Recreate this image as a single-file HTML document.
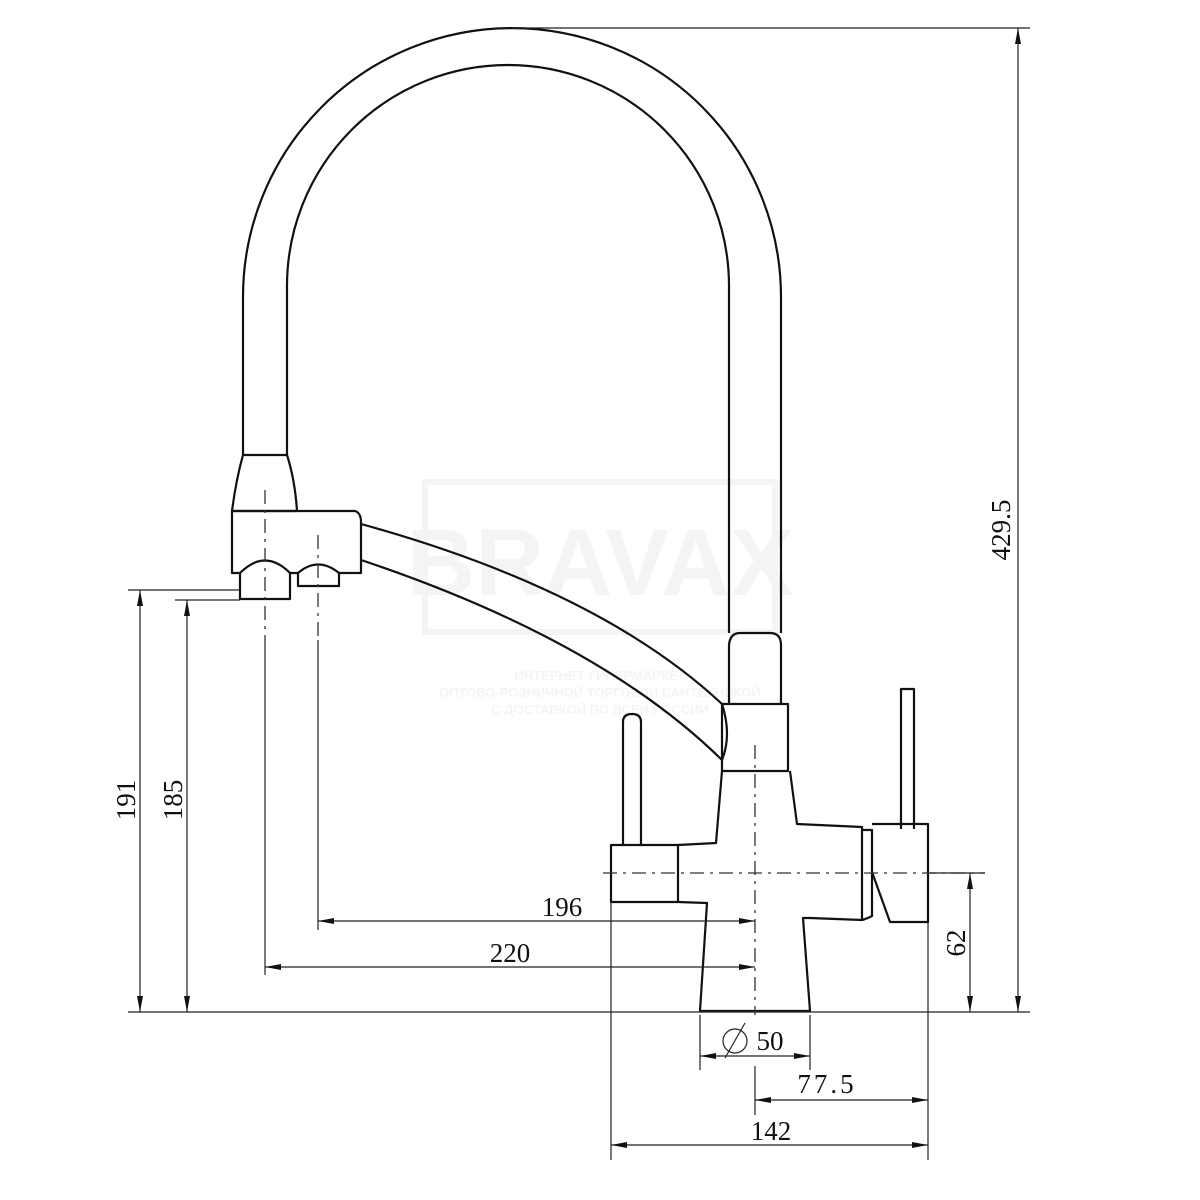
<!DOCTYPE html>
<html><head><meta charset="utf-8"><style>
html,body{margin:0;padding:0;background:#fff;width:1200px;height:1200px;overflow:hidden}
svg{display:block}
text{font-family:"Liberation Serif",serif;font-size:27px;fill:#111}
</style></head><body>
<svg width="1200" height="1200" viewBox="0 0 1200 1200">
<defs>
<marker id="a" viewBox="0 0 16 6" refX="16" refY="3" markerWidth="16" markerHeight="6" orient="auto-start-reverse" markerUnits="userSpaceOnUse"><path d="M0,0L16,3L0,6z" fill="#111"/></marker>
</defs>
<!-- watermark -->
<g opacity="0.04" fill="none" stroke="#000" stroke-width="6">
<rect x="425" y="482" width="350" height="150"/>
<text x="600" y="595" text-anchor="middle" style="font-family:'Liberation Sans',sans-serif;font-size:95px;font-weight:bold" fill="#000" stroke="none">BRAVAX</text>
<text x="600" y="680" text-anchor="middle" style="font-family:'Liberation Sans','DejaVu Sans',sans-serif;font-size:13px;font-weight:bold" fill="#000" stroke="none">ИНТЕРНЕТ-ГИПЕРМАРКЕТ</text>
<text x="600" y="697" text-anchor="middle" style="font-family:'Liberation Sans','DejaVu Sans',sans-serif;font-size:13px;font-weight:bold" fill="#000" stroke="none">ОПТОВО-РОЗНИЧНОЙ ТОРГОВЛИ САНТЕХНИКОЙ</text>
<text x="600" y="714" text-anchor="middle" style="font-family:'Liberation Sans','DejaVu Sans',sans-serif;font-size:13px;font-weight:bold" fill="#000" stroke="none">С ДОСТАВКОЙ ПО ВСЕЙ РОССИИ</text>
</g>
<g fill="none" stroke="#111" stroke-width="2.2" stroke-linejoin="round">
<path d="M243,455 L243,297 A269,269 0 0 1 781,297 L781,633"/>
<path d="M287,455 L287,286 A221,221 0 0 1 729,286 L729,633"/>
<path d="M243,455 L287,455 Q295,480 297,511 L232,511 Q236,480 243,455"/>
<path d="M232,511 L355,511 Q361,513 361,522 L361,573 L339,573 L339,586 L298,586 L298,573 L290,573 L290,599 L240,599 L240,573 L232,573 Z"/>
<path d="M240,573 Q265,548 290,573"/>
<path d="M298,573 Q318,556 339,573"/>
<path d="M361,524 Q600,590 722,704"/>
<path d="M361,560 Q600,640 722,760"/>
<path d="M729,704 L729,645 Q730,633 740,633 L770,633 Q781,633 781,645 L781,704"/>
<path d="M722,704 L788,704 L788,771 L722,771 Z M722,704 Q732,735 722,760"/>
<path d="M722,771 L716,843 L678,845 M678,902 L707,903 L700,1011 L810,1011 L803,918 L810,918 L862,920 L862,827 L797,824 L790,771"/>
<rect x="611" y="845" width="67" height="57"/>
<path d="M623,845 L623,722 Q623,714 632,714 Q641,714 641,722 L641,845"/>
<path d="M862,830 L872,830 L872,916 Q866,919 862,920"/>
<path d="M872,824 L928,824 L928,922 L890,922 L872,872"/>
<path d="M901,829 L901,689 L914,689 L914,829"/>
</g>
<g stroke="#333" stroke-width="1.3" stroke-dasharray="14,6,3,6" fill="none">
<line x1="265" y1="490" x2="265" y2="640"/>
<line x1="318" y1="535" x2="318" y2="640"/>
<line x1="755" y1="745" x2="755" y2="1015"/>
<line x1="603" y1="873" x2="985" y2="873"/>
</g>
<g stroke="#222" stroke-width="1.2" fill="none">
<line x1="512" y1="28" x2="1030" y2="28"/>
<line x1="128" y1="1012" x2="1030" y2="1012"/>
<line x1="1018" y1="28" x2="1018" y2="1012" marker-start="url(#a)" marker-end="url(#a)"/>
<line x1="128" y1="590" x2="240" y2="590"/>
<line x1="175" y1="600" x2="240" y2="600"/>
<line x1="140" y1="590" x2="140" y2="1012" marker-start="url(#a)" marker-end="url(#a)"/>
<line x1="187" y1="600" x2="187" y2="1012" marker-start="url(#a)" marker-end="url(#a)"/>
<line x1="265" y1="640" x2="265" y2="975"/>
<line x1="318" y1="640" x2="318" y2="930"/>
<line x1="318" y1="921" x2="755" y2="921" marker-start="url(#a)" marker-end="url(#a)"/>
<line x1="265" y1="967" x2="755" y2="967" marker-start="url(#a)" marker-end="url(#a)"/>
<line x1="930" y1="873" x2="985" y2="873"/>
<line x1="970" y1="873" x2="970" y2="1012" marker-start="url(#a)" marker-end="url(#a)"/>
<line x1="700" y1="1015" x2="700" y2="1070"/>
<line x1="810" y1="1015" x2="810" y2="1070"/>
<line x1="700" y1="1056" x2="810" y2="1056" marker-start="url(#a)" marker-end="url(#a)"/>
<line x1="755" y1="1066" x2="755" y2="1115"/>
<line x1="928" y1="922" x2="928" y2="1160"/>
<line x1="611" y1="902" x2="611" y2="1160"/>
<line x1="755" y1="1100" x2="928" y2="1100" marker-start="url(#a)" marker-end="url(#a)"/>
<line x1="611" y1="1145" x2="928" y2="1145" marker-start="url(#a)" marker-end="url(#a)"/>
<circle cx="735" cy="1041" r="12"/>
<line x1="725" y1="1058" x2="745" y2="1023"/>
</g>
<text x="1010" y="530" text-anchor="middle" transform="rotate(-90 1010 530)">429.5</text>
<text x="135" y="800" text-anchor="middle" transform="rotate(-90 135 800)">191</text>
<text x="182" y="800" text-anchor="middle" transform="rotate(-90 182 800)">185</text>
<text x="562" y="916" text-anchor="middle">196</text>
<text x="510" y="962" text-anchor="middle">220</text>
<text x="965" y="943" text-anchor="middle" transform="rotate(-90 965 943)">62</text>
<text x="770" y="1050" text-anchor="middle">50</text>
<text x="827" y="1093" text-anchor="middle" letter-spacing="3">77.5</text>
<text x="771" y="1140" text-anchor="middle">142</text>
</svg>
</body></html>
